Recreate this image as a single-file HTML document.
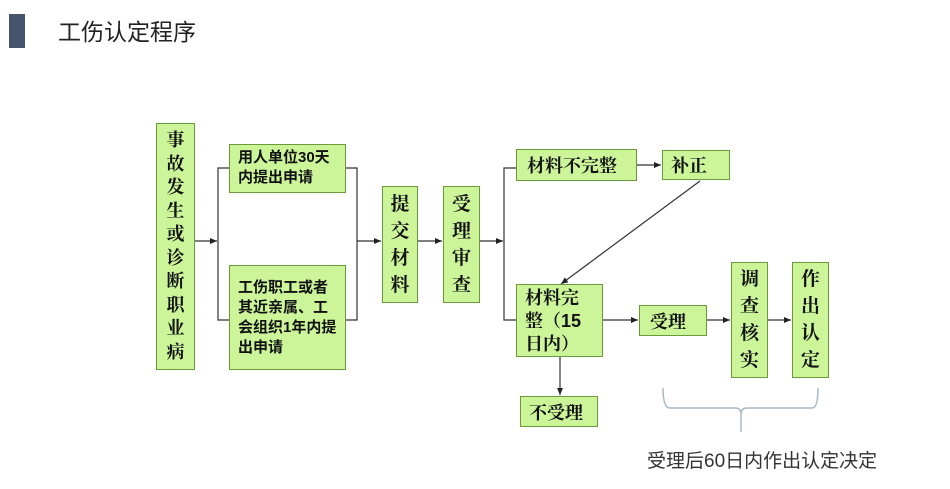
<!DOCTYPE html>
<html><head><meta charset="utf-8"><style>
body{margin:0;width:950px;height:489px;background:#fff;position:relative;overflow:hidden;font-family:"Liberation Sans","Noto Sans CJK SC",sans-serif}
.b{position:absolute;box-sizing:border-box;background:#ccf59a;border:1.5px solid #6a9a3a;color:#111;font-weight:bold}
.v{font-family:"Liberation Serif","Noto Serif CJK SC",serif;font-size:19px;line-height:27px;text-align:center;display:flex;flex-direction:column;justify-content:center;align-items:center}
.s{font-size:15px;line-height:20px;padding:3px 8px}
.h{font-family:"Liberation Serif","Noto Serif CJK SC",serif;font-size:18px;display:flex;align-items:center;padding-left:10px}
svg{position:absolute;left:0;top:0}
</style></head><body>
<div style="position:absolute;left:9px;top:14px;width:16px;height:34px;background:#44546a"></div>
<div style="position:absolute;left:58px;top:15px;font-size:23px;line-height:34px;color:#222">工伤认定程序</div>

<svg width="950" height="489">
<defs><marker id="a" markerWidth="8" markerHeight="8" refX="7" refY="4" orient="auto" markerUnits="userSpaceOnUse"><path d="M0,1 L7,4 L0,7z" fill="#222"/></marker></defs>
<g stroke="#333" stroke-width="1.2" fill="none">
<line x1="195" y1="241" x2="217" y2="241" marker-end="url(#a)"/>
<polyline points="229,168 218,168 218,320 229,320"/>
<polyline points="346,168 357,168 357,320 346,320"/>
<line x1="357" y1="241" x2="381" y2="241" marker-end="url(#a)"/>
<line x1="418" y1="241" x2="442" y2="241" marker-end="url(#a)"/>
<line x1="480" y1="241" x2="503" y2="241" marker-end="url(#a)"/>
<polyline points="516,168 504,168 504,320 516,320"/>
<line x1="637" y1="165" x2="661" y2="165" marker-end="url(#a)"/>
<line x1="700" y1="181" x2="561" y2="284" marker-end="url(#a)"/>
<line x1="575" y1="320" x2="638" y2="320" marker-end="url(#a)"/>
<line x1="707" y1="320" x2="730" y2="320" marker-end="url(#a)"/>
<line x1="768" y1="320" x2="791" y2="320" marker-end="url(#a)"/>
<line x1="560" y1="357" x2="560" y2="395" marker-end="url(#a)"/>
</g>
<path d="M663,388 Q663,408 670,408 L735,408 Q741,408 741,414 L741,432 M741,414 Q741,408 747,408 L812,408 Q818,408 818,388" stroke="#a8b8c8" stroke-width="1.5" fill="none"/>
</svg>

<div class="b v" style="left:156px;top:123px;width:39px;height:247px;font-size:18px;line-height:23.5px">事<br>故<br>发<br>生<br>或<br>诊<br>断<br>职<br>业<br>病</div>
<div class="b s" style="left:229px;top:144px;width:117px;height:49px">用人单位30天<br>内提出申请</div>
<div class="b s" style="left:229px;top:265px;width:117px;height:105px;padding-top:12px">工伤职工或者<br>其近亲属、工<br>会组织1年内提<br>出申请</div>
<div class="b v" style="left:382px;top:186px;width:36px;height:117px">提<br>交<br>材<br>料</div>
<div class="b v" style="left:443px;top:186px;width:37px;height:117px">受<br>理<br>审<br>查</div>
<div class="b h" style="left:516px;top:149px;width:121px;height:32px">材料不完整</div>
<div class="b h" style="left:662px;top:150px;width:68px;height:30px;padding-left:8px">补正</div>
<div class="b" style="left:516px;top:284px;width:87px;height:73px;font-family:'Liberation Sans','Noto Serif CJK SC',serif;font-size:18px;line-height:23px;padding:2px 0 0 8px">材料完<br>整（15<br>日内）</div>
<div class="b h" style="left:639px;top:305px;width:68px;height:31px">受理</div>
<div class="b v" style="left:731px;top:262px;width:37px;height:116px">调<br>查<br>核<br>实</div>
<div class="b v" style="left:792px;top:262px;width:37px;height:116px">作<br>出<br>认<br>定</div>
<div class="b h" style="left:520px;top:396px;width:78px;height:31px;padding-left:8px">不受理</div>
<div style="position:absolute;left:647px;top:449px;font-size:19px;line-height:26px;color:#333">受理后60日内作出认定决定</div>
</body></html>
